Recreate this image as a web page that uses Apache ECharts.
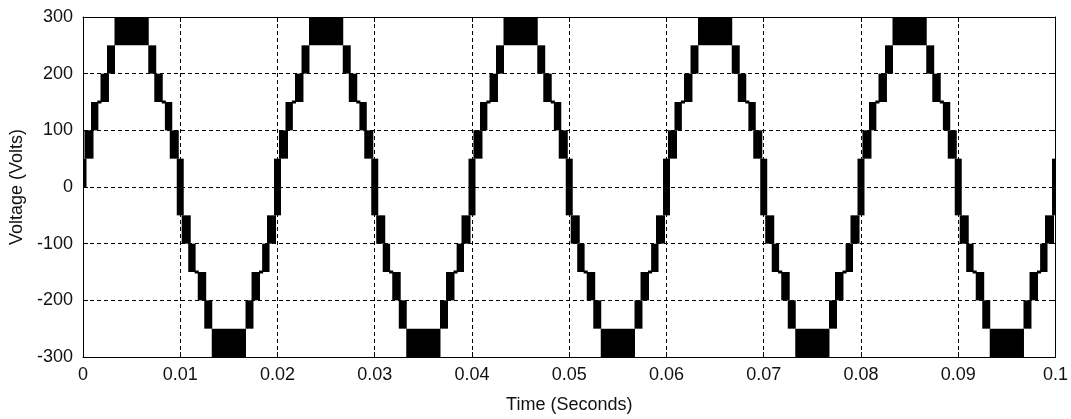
<!DOCTYPE html>
<html><head><meta charset="utf-8">
<script src="https://cdn.jsdelivr.net/npm/echarts@6/dist/echarts.min.js"></script>
<style>html,body{margin:0;padding:0;background:#fff}#c{width:1071px;height:419px}</style>
</head><body><div id="c"></div>
<script>
// Tick labels
const xTickLabels = ['0', '0.01', '0.02', '0.03', '0.04', '0.05', '0.06', '0.07', '0.08', '0.09', '0.1'];
const yTickLabels = ['-300', '-200', '-100', '0', '100', '200', '300'];

// Start time (s) of each 50 Hz cycle shown
const cycleStarts = [0, 0.02, 0.04, 0.06, 0.08];

// PWM switching bands within one cycle (times in ms from cycle start, voltages in V)
const bandStartMs = [0.15, 0.82, 1.80, 2.47, 3.24, 6.71, 7.33, 8.42, 8.92,
                     10.15, 10.82, 11.80, 12.47, 13.24, 16.71, 17.33, 18.42, 18.92];
const bandEndMs   = [1.08, 1.58, 2.67, 3.29, 6.76, 7.53, 8.20, 9.18, 9.85,
                     11.08, 11.58, 12.67, 13.29, 16.76, 17.53, 18.20, 19.18, 19.85];
const bandLow     = [50, 100, 150, 200, 250, 200, 150, 100, 50,
                     -100, -150, -200, -250, -300, -250, -200, -150, -100];
const bandHigh    = [100, 150, 200, 250, 300, 250, 200, 150, 100,
                     -50, -100, -150, -200, -250, -200, -150, -100, -50];

// Flat steps visible between bands (ms from cycle start)
const treadStartMs = [1.58, 8.20, 11.58, 18.20];
const treadEndMs   = [1.80, 8.42, 11.80, 18.42];
const treadLevel   = [150, 150, -150, -150];

// Zero-crossing switching bands (s, V)
const crossStart = [0, 0.00964, 0.01964, 0.02964, 0.03964, 0.04964, 0.05964, 0.06964, 0.07964, 0.08964, 0.09964];
const crossEnd   = [0.00036, 0.01036, 0.02036, 0.03036, 0.04036, 0.05036, 0.06036, 0.07036, 0.08036, 0.09036, 0.1];
const crossLow   = [0, -50, -50, -50, -50, -50, -50, -50, -50, -50, -50];
const crossHigh  = [50, 50, 50, 50, 50, 50, 50, 50, 50, 50, 50];

// Build rectangle data [t0, t1, vLow, vHigh]
const rects = [];
cycleStarts.forEach(cs => {
  for (let i = 0; i < bandStartMs.length; i++) {
    rects.push([cs + bandStartMs[i] / 1000, cs + bandEndMs[i] / 1000, bandLow[i], bandHigh[i]]);
  }
});
for (let i = 0; i < crossStart.length; i++) {
  rects.push([crossStart[i], crossEnd[i], crossLow[i], crossHigh[i]]);
}
const treads = [];
cycleStarts.forEach(cs => {
  for (let i = 0; i < treadStartMs.length; i++) {
    treads.push([cs + treadStartMs[i] / 1000, cs + treadEndMs[i] / 1000, treadLevel[i]]);
  }
});

const FONT = 'Liberation Sans, Arial, sans-serif';
const txt = '#111';
const chart = echarts.init(document.getElementById('c'), null, {renderer: 'canvas'});
const xLabelMap = {};
xTickLabels.forEach((l, i) => { xLabelMap[(i * 0.01).toFixed(2)] = l; });

const dash = {type: [4, 3], color: '#000', width: 1};
const frameLine = {show: true, onZero: false, lineStyle: {color: '#000', width: 1}};
chart.setOption({
  animation: false,
  backgroundColor: '#fff',
  grid: {left: 83, right: 14, top: 17, bottom: 60},
  xAxis: [{
    type: 'value', min: 0, max: 0.1, interval: 0.01,
    name: 'Time (Seconds)', nameLocation: 'middle', nameGap: 39,
    nameTextStyle: {fontFamily: FONT, fontSize: 18, color: txt},
    axisLine: frameLine,
    axisTick: {show: true, inside: true, length: 5, lineStyle: {color: '#000'}},
    axisLabel: {fontFamily: FONT, fontSize: 18, color: txt, margin: 9,
      formatter: v => xLabelMap[v.toFixed(2)] ?? ''},
    splitLine: {show: true, lineStyle: dash}
  }, {
    type: 'value', min: 0, max: 0.1, interval: 0.01, position: 'top',
    axisLine: frameLine,
    axisTick: {show: true, inside: true, length: 5, lineStyle: {color: '#000'}},
    axisLabel: {show: false}, splitLine: {show: false}
  }],
  yAxis: [{
    type: 'value', min: -300, max: 300, interval: 100,
    name: 'Voltage (Volts)', nameLocation: 'middle', nameGap: 52,
    nameTextStyle: {fontFamily: FONT, fontSize: 18, color: txt},
    axisLine: frameLine,
    axisTick: {show: true, inside: true, length: 5, lineStyle: {color: '#000'}},
    axisLabel: {fontFamily: FONT, fontSize: 18, color: txt, margin: 10,
      formatter: v => yTickLabels[Math.round((v + 300) / 100)]},
    splitLine: {show: true, lineStyle: dash}
  }, {
    type: 'value', min: -300, max: 300, interval: 100, position: 'right',
    axisLine: frameLine,
    axisTick: {show: true, inside: true, length: 5, lineStyle: {color: '#000'}},
    axisLabel: {show: false}, splitLine: {show: false}
  }],
  series: [{
    type: 'custom',
    clip: true,
    data: rects,
    encode: {x: [0, 1], y: [2, 3]},
    renderItem: (params, api) => {
      const p0 = api.coord([api.value(0), api.value(3)]);
      const p1 = api.coord([api.value(1), api.value(2)]);
      return {type: 'rect', shape: {x: p0[0], y: p0[1], width: p1[0] - p0[0], height: p1[1] - p0[1]},
        style: {fill: '#000'}};
    },
    z: 5
  }, {
    type: 'custom',
    clip: true,
    data: treads,
    encode: {x: [0, 1], y: 2},
    renderItem: (params, api) => {
      const p0 = api.coord([api.value(0), api.value(2)]);
      const p1 = api.coord([api.value(1), api.value(2)]);
      return {type: 'line', shape: {x1: p0[0] - 1, y1: p0[1], x2: p1[0] + 1, y2: p1[1]},
        style: {stroke: '#000', lineWidth: 3}};
    },
    z: 5
  }]
});
</script>
</body></html>
